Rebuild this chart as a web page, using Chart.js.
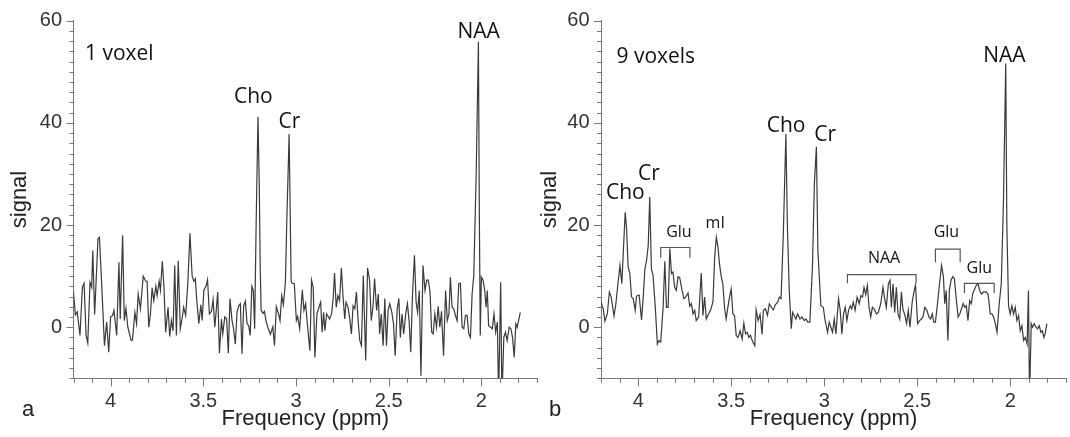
<!DOCTYPE html>
<html>
<head>
<meta charset="utf-8">
<script src="https://cdn.jsdelivr.net/npm/chart.js@4.4.1/dist/chart.umd.min.js"></script>
<style>
  body { margin: 0; background: #fff; }
  #wrap { position: relative; width: 1070px; height: 437px; overflow: hidden; }
  canvas { position: absolute; top: 0; }
  #chartA { left: 0; }
  #chartB { left: 530px; }
</style>
</head>
<body>
<div id="wrap">
  <canvas id="chartA" width="540" height="437" style="width:540px;height:437px"></canvas>
  <canvas id="chartB" width="540" height="437" style="width:540px;height:437px"></canvas>
</div>
<script>
// spectre 1 voxel (ppm / signal)
const ppm1 = [4.200,4.190,4.180,4.165,4.152,4.143,4.132,4.123,4.111,4.102,4.096,4.086,4.078,4.068,4.060,4.050,4.033,4.021,4.010,4.000,
  3.989,3.982,3.967,3.955,3.948,3.935,3.926,3.917,3.907,3.889,3.882,3.869,3.860,3.851,3.839,3.824,3.810,3.803,3.794,3.785,
  3.776,3.767,3.756,3.749,3.738,3.731,3.721,3.712,3.703,3.690,3.681,3.672,3.663,3.654,3.645,3.635,3.624,3.613,3.606,3.595,
  3.583,3.572,3.560,3.551,3.543,3.535,3.524,3.513,3.506,3.497,3.484,3.477,3.467,3.456,3.447,3.438,3.431,3.422,3.413,3.402,
  3.395,3.384,3.374,3.365,3.356,3.345,3.338,3.327,3.318,3.309,3.300,3.291,3.282,3.273,3.264,3.255,3.247,3.238,3.230,3.223,
  3.215,3.205,3.198,3.193,3.188,3.178,3.170,3.162,3.152,3.138,3.125,3.116,3.106,3.095,3.086,3.077,3.068,3.057,3.050,3.037,
  3.031,3.026,3.020,3.009,2.998,2.991,2.980,2.966,2.957,2.948,2.937,2.925,2.916,2.907,2.898,2.887,2.876,2.867,2.859,2.851,
  2.844,2.835,2.826,2.819,2.808,2.799,2.792,2.783,2.774,2.765,2.755,2.746,2.737,2.730,2.719,2.710,2.701,2.692,2.683,2.674,
  2.665,2.656,2.647,2.637,2.624,2.614,2.603,2.594,2.585,2.576,2.565,2.556,2.549,2.540,2.530,2.521,2.512,2.503,2.494,2.483,
  2.474,2.465,2.454,2.445,2.437,2.428,2.419,2.408,2.399,2.390,2.381,2.372,2.361,2.352,2.344,2.335,2.326,2.315,2.304,2.295,
  2.286,2.277,2.268,2.260,2.251,2.242,2.233,2.224,2.215,2.204,2.193,2.184,2.175,2.167,2.158,2.149,2.140,2.131,2.122,2.113,
  2.104,2.095,2.086,2.077,2.068,2.059,2.050,2.041,2.028,2.016,2.011,2.006,2.000,1.991,1.982,1.975,1.968,1.961,1.950,1.941,
  1.932,1.923,1.914,1.907,1.896,1.889,1.879,1.870,1.861,1.850,1.841,1.832,1.823,1.814,1.807,1.790];
const sig1 = [6.9,2.4,3.0,-1.6,7.8,8.6,-1.6,-3.1,8.8,7.8,15.0,2.5,9.0,17.3,17.6,10.0,-3.6,1.0,-4.9,2.0,
  2.3,3.3,-1.6,12.7,1.6,18.0,1.3,3.7,0.0,-2.6,-2.5,2.9,0.7,6.5,3.6,10.0,9.0,9.0,0.0,2.6,
  7.7,5.2,8.0,6.2,9.0,7.2,12.9,7.8,-1.0,3.9,-1.8,1.3,-0.7,12.1,-1.6,13.0,-0.3,2.0,3.9,2.3,
  8.8,18.4,10.0,9.0,9.5,5.2,0.7,4.4,1.3,7.2,8.2,9.3,2.6,3.1,5.4,0.0,2.9,6.9,-5.1,1.6,
  -1.3,2.0,1.6,-5.1,5.6,1.3,0.0,-3.3,2.9,4.2,4.6,-5.2,4.2,5.1,0.7,0.3,-1.6,8.0,7.2,-0.3,
  20.0,41.2,28.0,12.0,3.3,2.7,3.1,1.3,0.0,-1.4,0.1,-3.6,4.0,2.7,1.3,6.2,4.4,8.8,20.0,37.8,
  22.0,9.0,8.6,8.5,1.3,2.1,-0.3,7.3,3.3,4.6,0.0,-4.6,9.2,7.8,-5.9,2.6,3.9,4.9,-1.0,2.9,
  -0.7,2.6,2.1,1.6,2.6,5.8,10.6,3.9,6.2,5.2,11.6,5.9,1.6,4.9,3.9,1.6,-1.3,4.2,3.6,6.9,
  1.3,-2.6,-3.6,10.1,-6.5,11.6,9.2,1.3,3.9,9.5,3.3,6.5,-1.3,2.6,-3.6,5.6,-3.6,3.3,4.6,2.9,
  0.7,-5.6,3.6,5.6,-2.0,2.6,-1.3,2.6,4.6,1.3,-4.9,5.9,14.1,4.9,2.9,7.2,-9.5,12.1,7.2,9.2,
  9.2,6.9,-1.0,-1.3,2.6,0.0,4.1,0.0,3.1,-5.6,7.2,1.3,2.6,9.8,3.9,3.6,2.3,1.3,8.5,8.6,
  0.0,-0.3,2.3,2.3,-1.3,-2.0,6.5,10.1,30.0,55.9,22.0,-1.6,9.8,9.2,7.2,3.9,7.2,0.3,0.0,-0.3,
  2.6,-1.0,1.0,-14.0,8.8,-14.0,-2.0,-1.0,-2.6,0.0,-0.3,-2.0,-5.9,0.7,0.0,2.9];

// spectre 9 voxels
const ppm2 = [4.200,4.188,4.179,4.166,4.155,4.145,4.130,4.120,4.109,4.098,4.088,4.070,4.063,4.054,4.045,4.036,4.027,4.016,4.009,3.995,
  3.982,3.973,3.964,3.955,3.946,3.938,3.929,3.920,3.907,3.897,3.888,3.879,3.866,3.857,3.848,3.839,3.830,3.821,3.813,3.804,
  3.795,3.786,3.777,3.764,3.754,3.745,3.732,3.723,3.714,3.705,3.696,3.688,3.675,3.661,3.652,3.643,3.634,3.622,3.611,3.598,
  3.589,3.580,3.571,3.563,3.554,3.545,3.536,3.527,3.518,3.509,3.500,3.491,3.482,3.473,3.463,3.452,3.441,3.432,3.423,3.414,
  3.405,3.397,3.384,3.373,3.366,3.355,3.345,3.334,3.327,3.316,3.305,3.295,3.284,3.273,3.263,3.250,3.241,3.232,3.220,3.206,
  3.198,3.188,3.177,3.170,3.161,3.152,3.143,3.130,3.120,3.107,3.098,3.088,3.077,3.063,3.053,3.042,3.034,3.018,3.005,2.995,
  2.982,2.973,2.964,2.955,2.946,2.937,2.923,2.914,2.905,2.896,2.887,2.878,2.869,2.860,2.852,2.844,2.834,2.823,2.812,2.803,
  2.794,2.786,2.777,2.768,2.759,2.750,2.741,2.732,2.719,2.709,2.696,2.684,2.675,2.666,2.655,2.646,2.639,2.630,2.621,2.612,
  2.603,2.594,2.585,2.577,2.566,2.557,2.548,2.539,2.527,2.516,2.509,2.498,2.487,2.478,2.469,2.459,2.448,2.437,2.428,2.419,
  2.411,2.402,2.391,2.380,2.369,2.359,2.352,2.344,2.335,2.327,2.318,2.309,2.300,2.291,2.280,2.271,2.262,2.253,2.244,2.236,
  2.227,2.218,2.209,2.202,2.191,2.182,2.173,2.164,2.155,2.143,2.130,2.119,2.107,2.098,2.089,2.080,2.071,2.059,2.048,2.036,
  2.024,2.018,2.009,2.000,1.991,1.982,1.973,1.964,1.955,1.946,1.937,1.928,1.919,1.909,1.902,1.896,1.887,1.880,1.871,1.862,
  1.853,1.844,1.835,1.827,1.819,1.812,1.803];
const sig2 = [4.9,3.6,1.2,2.6,6.9,5.9,2.2,4.6,8.5,12.1,8.5,22.5,19.6,11.8,10.5,5.9,5.6,3.3,6.1,6.3,
  1.4,5.9,11.4,13.1,16.0,25.5,11.4,10.1,3.3,-3.3,-2.6,-2.9,3.9,12.9,3.9,3.9,15.4,10.5,10.8,7.8,
  7.2,9.9,9.7,7.2,5.6,5.9,6.7,4.1,4.6,2.6,3.3,1.3,2.0,10.6,2.3,5.9,1.6,2.6,3.3,5.0,
  13.7,17.6,15.7,12.4,10.0,8.5,3.9,1.6,3.9,5.9,7.5,2.6,2.3,-1.6,-2.0,-0.7,-2.3,0.8,-1.3,-1.0,
  -2.0,-1.6,-2.9,-3.6,3.4,1.3,2.5,-1.4,3.3,3.6,2.3,4.6,3.9,3.4,4.4,4.9,5.9,5.6,18.0,37.8,
  20.0,7.2,-0.3,2.9,2.3,1.6,2.6,1.6,2.0,1.3,1.6,1.0,1.0,12.0,28.0,35.3,15.0,4.2,3.9,1.3,
  -1.0,1.0,0.0,-1.0,1.6,-1.3,5.6,3.3,-1.3,2.6,3.9,1.3,3.3,4.2,3.6,4.9,3.3,5.9,4.6,6.2,
  5.9,7.8,6.4,8.2,3.9,2.0,3.9,3.6,2.6,2.9,4.6,7.8,5.6,3.9,8.5,9.2,3.9,8.5,2.9,7.8,
  2.6,1.6,6.9,3.6,2.3,0.7,3.3,0.0,4.9,7.2,8.2,0.7,1.3,1.6,2.0,3.9,3.3,2.0,1.6,2.6,
  1.0,1.0,4.6,8.5,12.1,9.8,4.6,7.2,-2.6,7.2,9.2,9.9,9.5,5.9,2.0,2.6,3.6,4.6,3.9,4.2,
  1.3,5.2,4.6,6.5,7.5,8.2,8.5,7.2,6.5,6.9,6.9,6.5,2.6,2.6,2.0,0.7,-1.0,4.6,8.5,25.0,
  51.6,20.0,4.2,2.6,4.2,2.6,3.9,1.3,2.3,-0.7,0.3,-2.6,-2.0,-3.3,7.2,-14.0,0.7,0.0,0.7,0.0,
  -0.3,0.3,-1.0,-0.7,-2.0,-1.3,0.7];

// annotations : texte, ppm, signal, alignement, petit
const notes1 = [
  ['1 voxel', 4.138, 53.4, 'left', false],
  ['Cho', 3.230, 45.0, 'center', false],
  ['Cr', 3.036, 40.2, 'center', false],
  ['NAA', 2.015, 57.8, 'center', false]
];
const notes2 = [
  ['9 voxels', 4.117, 52.9, 'left', false],
  ['Cho', 4.069, 26.3, 'center', false],
  ['Cr', 3.942, 30.0, 'center', false],
  ['Glu', 3.781, 18.6, 'center', true],
  ['mI', 3.586, 20.4, 'center', true],
  ['Cho', 3.205, 39.4, 'center', false],
  ['Cr', 2.995, 37.6, 'center', false],
  ['NAA', 2.678, 13.5, 'center', true],
  ['Glu', 2.343, 18.5, 'center', true],
  ['Glu', 2.166, 11.6, 'center', true],
  ['NAA', 2.031, 53.1, 'center', false]
];
// crochets : ppm gauche, ppm droit, haut, bas
const brackets2 = [
  [3.879, 3.722, 15.6, 13.6],
  [2.875, 2.506, 10.3, 8.6],
  [2.402, 2.269, 15.3, 12.7],
  [2.246, 2.086, 8.6, 6.7]
];

const AXIS_FONT = "'Liberation Sans', Arial, sans-serif";
const NOTE_FONT = "'Open Sans', 'Noto Sans', sans-serif";

// petites graduations dessinées à la main (majeures plus longues)
const tickMarks = {
  id: 'tickMarks',
  afterDraw(chart) {
    const ctx = chart.ctx;
    const sx = chart.scales.x, sy = chart.scales.y;
    ctx.save();
    ctx.strokeStyle = '#777';
    ctx.lineWidth = 1;
    ctx.beginPath();
    sx.ticks.forEach(t => {
      const px = Math.round(sx.getPixelForValue(t.value)) + 0.5;
      const len = t.label !== '' ? 8 : 4.5;
      ctx.moveTo(px, sx.top);
      ctx.lineTo(px, sx.top + len);
    });
    sy.ticks.forEach(t => {
      const py = Math.round(sy.getPixelForValue(t.value)) + 0.5;
      const len = t.label !== '' ? 7 : 4;
      ctx.moveTo(sy.right, py);
      ctx.lineTo(sy.right - len, py);
    });
    ctx.stroke();
    ctx.restore();
  }
};

const notesPlugin = {
  id: 'notes',
  afterDraw(chart, args, opts) {
    const ctx = chart.ctx;
    const sx = chart.scales.x, sy = chart.scales.y;
    ctx.save();
    ctx.fillStyle = '#111';
    ctx.textBaseline = 'middle';
    (opts.notes || []).forEach(n => {
      ctx.font = (n[4] ? '16px ' : '21px ') + NOTE_FONT;
      ctx.textAlign = n[3];
      ctx.fillText(n[0], sx.getPixelForValue(n[1]), sy.getPixelForValue(n[2]));
    });
    ctx.strokeStyle = '#555';
    ctx.lineWidth = 1.2;
    (opts.brackets || []).forEach(b => {
      const x1 = sx.getPixelForValue(b[0]), x2 = sx.getPixelForValue(b[1]);
      const yt = sy.getPixelForValue(b[2]), yb = sy.getPixelForValue(b[3]);
      ctx.beginPath();
      ctx.moveTo(x1, yb); ctx.lineTo(x1, yt); ctx.lineTo(x2, yt); ctx.lineTo(x2, yb);
      ctx.stroke();
    });
    // lettre du panneau
    ctx.font = '22px ' + AXIS_FONT;
    ctx.textAlign = 'center';
    ctx.fillStyle = '#222';
    ctx.fillText(opts.letter, opts.letterX, 410);
    ctx.restore();
  }
};

const makeChart = (id, ppm, sig, notes, brackets, letter, letterX, yWidth, padRight) => {
  const points = ppm.map((p, i) => ({ x: p, y: sig[i] }));
  return new Chart(document.getElementById(id), {
    type: 'line',
    data: {
      datasets: [{
        data: points,
        borderColor: '#3a3a3a',
        borderWidth: 1.2,
        pointRadius: 0,
        tension: 0,
        fill: false
      }]
    },
    options: {
      responsive: false,
      animation: false,
      layout: { padding: { left: 0, top: 20.7, right: padRight, bottom: 0 } },
      plugins: {
        legend: { display: false },
        tooltip: { enabled: false },
        notes: { notes: notes, brackets: brackets, letter: letter, letterX: letterX }
      },
      scales: {
        x: {
          type: 'linear',
          reverse: true,
          min: 1.7,
          max: 4.2,
          afterFit: (s) => { s.height = 58.7; },
          grid: { display: true, drawOnChartArea: false, color: 'transparent', tickColor: 'transparent', tickLength: 8 },
          border: { display: true, color: '#777', width: 1 },
          ticks: {
            stepSize: 0.1,
            autoSkip: false,
            maxRotation: 0,
            padding: 3,
            color: '#333',
            font: { family: AXIS_FONT, size: 20 },
            callback: (v) => {
              const r = Math.round(v * 10) / 10;
              return Math.abs(r * 2 - Math.round(r * 2)) < 1e-6 ? String(r) : '';
            }
          },
          title: { display: true, text: 'Frequency (ppm)', color: '#222', font: { family: AXIS_FONT, size: 22 }, padding: { top: 5, bottom: 5 } }
        },
        y: {
          min: -10,
          max: 60,
          afterFit: (s) => { s.width = yWidth; },
          grid: { display: true, drawOnChartArea: false, color: 'transparent', tickColor: 'transparent', tickLength: 7 },
          border: { display: true, color: '#777', width: 1 },
          ticks: {
            stepSize: 2,
            autoSkip: false,
            padding: 4.5,
            color: '#333',
            font: { family: AXIS_FONT, size: 20 },
            callback: (v) => (Math.round(v) % 20 === 0 ? String(Math.round(v)) : '')
          },
          title: { display: true, text: 'signal', color: '#222', font: { family: AXIS_FONT, size: 22 }, padding: { top: 7, bottom: 7 } }
        }
      }
    },
    plugins: [tickMarks, notesPlugin]
  });
};

makeChart('chartA', ppm1, sig1, notes1, [], 'a', 28, 73.5, 2);
makeChart('chartB', ppm2, sig2, notes2, brackets2, 'b', 25, 71, 4);
</script>
</body>
</html>
